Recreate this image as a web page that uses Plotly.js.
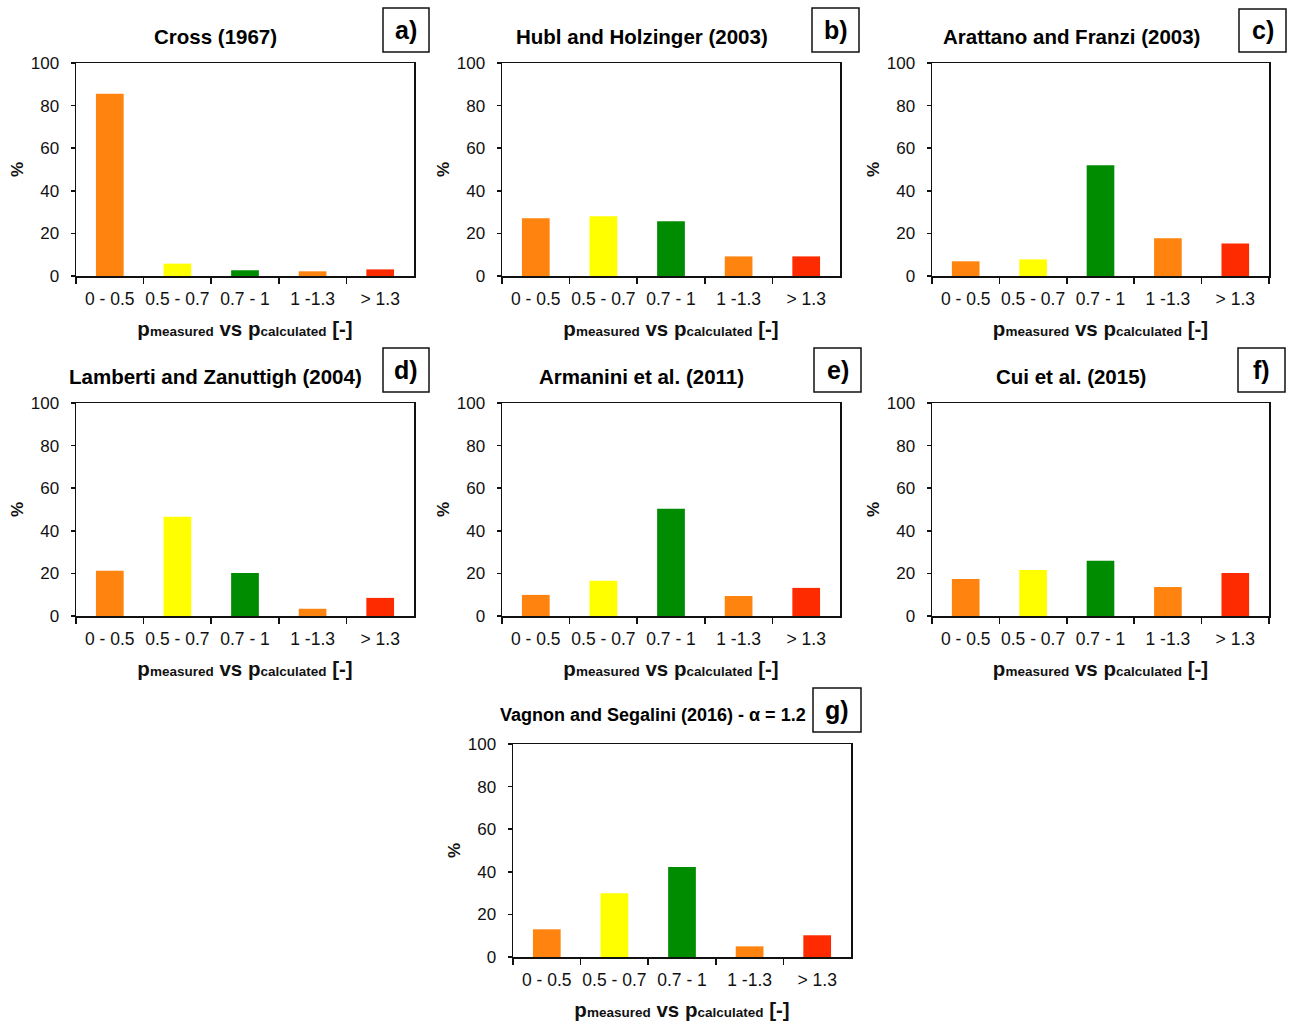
<!DOCTYPE html>
<html>
<head>
<meta charset="utf-8">
<script src="https://cdn.plot.ly/plotly-3.0.1.min.js"></script>
<style>
  html, body { margin: 0; padding: 0; background: #fff; }
  #chart { width: 1292px; height: 1026px; }
</style>
</head>
<body>
<div id="chart"></div>
<script>
// Ratio classes of measured vs calculated pressure
const categories = ['0 - 0.5', '0.5 - 0.7', '0.7 - 1', '1 -1.3', '> 1.3'];
const barColors = ['#FF840F', '#FFFF00', '#008C00', '#FF840F', '#FF2B00'];

// Share of cases (%) falling in each class, per method
const crossValues    = [85.6, 5.8, 2.7, 2.2, 3.1];
const hublValues     = [27.1, 28.0, 25.7, 9.2, 9.2];
const arattanoValues = [6.9, 7.8, 52.0, 17.7, 15.3];
const lambertiValues = [21.3, 46.6, 20.2, 3.4, 8.5];
const armaniniValues = [9.9, 16.6, 50.3, 9.4, 13.2];
const cuiValues      = [17.4, 21.6, 25.9, 13.6, 20.2];
const vagnonValues   = [13.0, 29.9, 42.2, 5.0, 10.2];

const panelTitles = [
  'Cross (1967)',
  'Hubl and Holzinger (2003)',
  'Arattano and Franzi (2003)',
  'Lamberti and Zanuttigh (2004)',
  'Armanini et al. (2011)',
  'Cui et al. (2015)',
  'Vagnon and Segalini (2016) - α = 1.2'
];
const panelLetters = ['a)', 'b)', 'c)', 'd)', 'e)', 'f)', 'g)'];
const panelValues = [crossValues, hublValues, arattanoValues, lambertiValues,
                     armaniniValues, cuiValues, vagnonValues];

// Page geometry (pixels)
const W = 1292, H = 1026;
const FONT = 'Arial, "Liberation Sans", sans-serif';
// plot area boxes: left, right, top, bottom
const boxes = [
  [76, 414, 63, 276], [502, 840, 63, 276], [932, 1269, 63, 276],
  [76, 414, 403, 616], [502, 840, 403, 616], [932, 1269, 403, 616],
  [513, 851, 744, 957]
];
// letter boxes: left, right, top, bottom
const tags = [
  [383, 429, 8, 52], [812, 859, 8, 52], [1239, 1286, 9, 52],
  [383, 429, 348, 392], [814, 861, 348, 392], [1238, 1285, 348, 392],
  [813, 861, 688, 732]
];
const titleCenters = [
  [216, 36], [642, 36], [1071, 36],
  [216, 376], [641, 376], [1071, 376],
  [653, 715]
];

const px = v => v / W;
const py = v => 1 - v / H;

const xTitle = '<b>p<span style="font-size:13.5px">measured</span> vs ' +
               'p<span style="font-size:13.5px">calculated</span> [-]</b>';

const data = [];
const layout = {
  width: W, height: H,
  margin: {l: 0, r: 0, t: 0, b: 0},
  paper_bgcolor: '#fff', plot_bgcolor: '#fff',
  showlegend: false,
  bargap: 0.59,
  font: {family: FONT, color: '#111'},
  annotations: [],
  shapes: []
};

panelValues.forEach((vals, i) => {
  const n = i === 0 ? '' : String(i + 1);
  const [l, r, t, b] = boxes[i];
  data.push({
    type: 'bar',
    x: categories,
    y: vals,
    xaxis: 'x' + n,
    yaxis: 'y' + n,
    marker: {color: barColors, line: {width: 0}},
    hoverinfo: 'x+y'
  });
  layout['xaxis' + n] = {
    domain: [px(l), px(r)],
    anchor: 'y' + n,
    type: 'category',
    showline: true, mirror: true, linecolor: '#111', linewidth: 1.5,
    ticks: 'outside', tickson: 'boundaries', ticklen: 6, tickwidth: 1.5, tickcolor: '#111',
    showgrid: false, zeroline: false,
    tickangle: 0,
    tickfont: {family: FONT, size: 17.5, color: '#111'},
    ticklabelstandoff: 6,
    automargin: false,
    fixedrange: true,
    title: {text: xTitle, font: {family: FONT, size: 20.5, color: '#111'}, standoff: 14}
  };
  layout['yaxis' + n] = {
    domain: [py(b), py(t)],
    anchor: 'x' + n,
    range: [0, 100],
    dtick: 20,
    showline: true, mirror: true, linecolor: '#111', linewidth: 1.5,
    ticks: 'outside', ticklen: 4, tickwidth: 1.5, tickcolor: '#111',
    showgrid: false, zeroline: false,
    tickfont: {family: FONT, size: 17, color: '#111'},
    ticklabelstandoff: 8,
    automargin: false,
    fixedrange: true,
    title: {text: '<b>%</b>', font: {family: FONT, size: 17, color: '#111'}, standoff: 3}
  };

  const [cx, cy] = titleCenters[i];
  layout.annotations.push({
    xref: 'paper', yref: 'paper',
    x: px(cx), y: py(cy), xanchor: 'center', yanchor: 'middle',
    text: '<b>' + panelTitles[i] + '</b>', showarrow: false,
    font: {family: FONT, size: i === 6 ? 18 : 20.5, color: '#000'}
  });

  const [tl, tr, tt, tb] = tags[i];
  layout.shapes.push({
    type: 'rect', xref: 'paper', yref: 'paper',
    x0: px(tl), x1: px(tr), y0: py(tb), y1: py(tt),
    line: {color: '#111', width: 1.5}, fillcolor: 'rgba(0,0,0,0)'
  });
  layout.annotations.push({
    xref: 'paper', yref: 'paper',
    x: px((tl + tr) / 2), y: py((tt + tb) / 2), xanchor: 'center', yanchor: 'middle',
    text: '<b>' + panelLetters[i] + '</b>', showarrow: false,
    font: {family: FONT, size: 25, color: '#000'}
  });
});

Plotly.newPlot('chart', data, layout, {staticPlot: true, displayModeBar: false});
</script>
</body>
</html>
